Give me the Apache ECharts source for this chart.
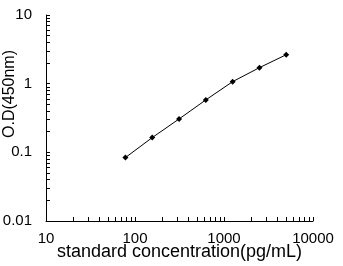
<!DOCTYPE html>
<html><head><meta charset="utf-8">
<script src="https://cdn.jsdelivr.net/npm/echarts@6/dist/echarts.min.js"></script>
<style>html,body{margin:0;padding:0;background:#fff}#c{width:343px;height:266px}</style>
</head><body><div id="c"></div>
<script>
const concentrations = [78.125, 156.25, 312.5, 625, 1250, 2500, 5000];
const odValues = [0.084, 0.164, 0.306, 0.58, 1.07, 1.71, 2.64];
const xTicks = [10,20,30,40,50,60,70,80,90,100,200,300,400,500,600,700,800,900,1000,2000,3000,4000,5000,6000,7000,8000,9000,10000];
const yTicks = [0.01,0.02,0.03,0.04,0.05,0.06,0.07,0.08,0.09,0.1,0.2,0.3,0.4,0.5,0.6,0.7,0.8,0.9,1,2,3,4,5,6,7,8,9,10];
const xLabels = [10, 100, 1000, 10000];
const yLabels = [0.01, 0.1, 1, 10];
const xName = 'standard concentration(pg/mL)';
const yName = 'O.D(450nm)';

const font = 'Liberation Sans';
const chart = echarts.init(document.getElementById('c'));
chart.setOption({
  animation: false,
  backgroundColor: '#fff',
  grid: {left: 46, right: 30, top: 15, bottom: 45, containLabel: false, outerBoundsMode: 'none'},
  xAxis: {
    type: 'log', logBase: 10, min: 10, max: 10000,
    name: xName, nameLocation: 'middle', nameGap: 22, nameMoveOverlap: false,
    nameTextStyle: {color: '#000', fontFamily: font, fontSize: 18},
    axisLine: {show: true, lineStyle: {color: '#000', width: 1}},
    axisTick: {show: true, inside: true, length: 4, customValues: xTicks, lineStyle: {color: '#000'}},
    axisLabel: {customValues: xLabels, color: '#000', fontFamily: font, fontSize: 15, margin: 10,
      formatter: v => String(v)},
    splitLine: {show: false}
  },
  yAxis: {
    type: 'log', logBase: 10, min: 0.01, max: 10,
    name: yName, nameLocation: 'middle', nameGap: 28, nameRotate: 90, nameMoveOverlap: false,
    nameTextStyle: {color: '#000', fontFamily: font, fontSize: 16, padding: [0, 0, 0, 48]},
    axisLine: {show: true, lineStyle: {color: '#000', width: 1}},
    axisTick: {show: true, inside: true, length: 4, customValues: yTicks, lineStyle: {color: '#000'}},
    axisLabel: {customValues: yLabels, color: '#000', fontFamily: font, fontSize: 15, margin: 14,
      formatter: v => String(+v.toPrecision(6))},
    splitLine: {show: false}
  },
  series: [{
    type: 'line',
    data: concentrations.map((c, i) => [c, odValues[i]]),
    symbol: 'diamond', symbolSize: 6,
    lineStyle: {color: '#000', width: 1},
    itemStyle: {color: '#000'}
  }]
});
</script></body></html>
